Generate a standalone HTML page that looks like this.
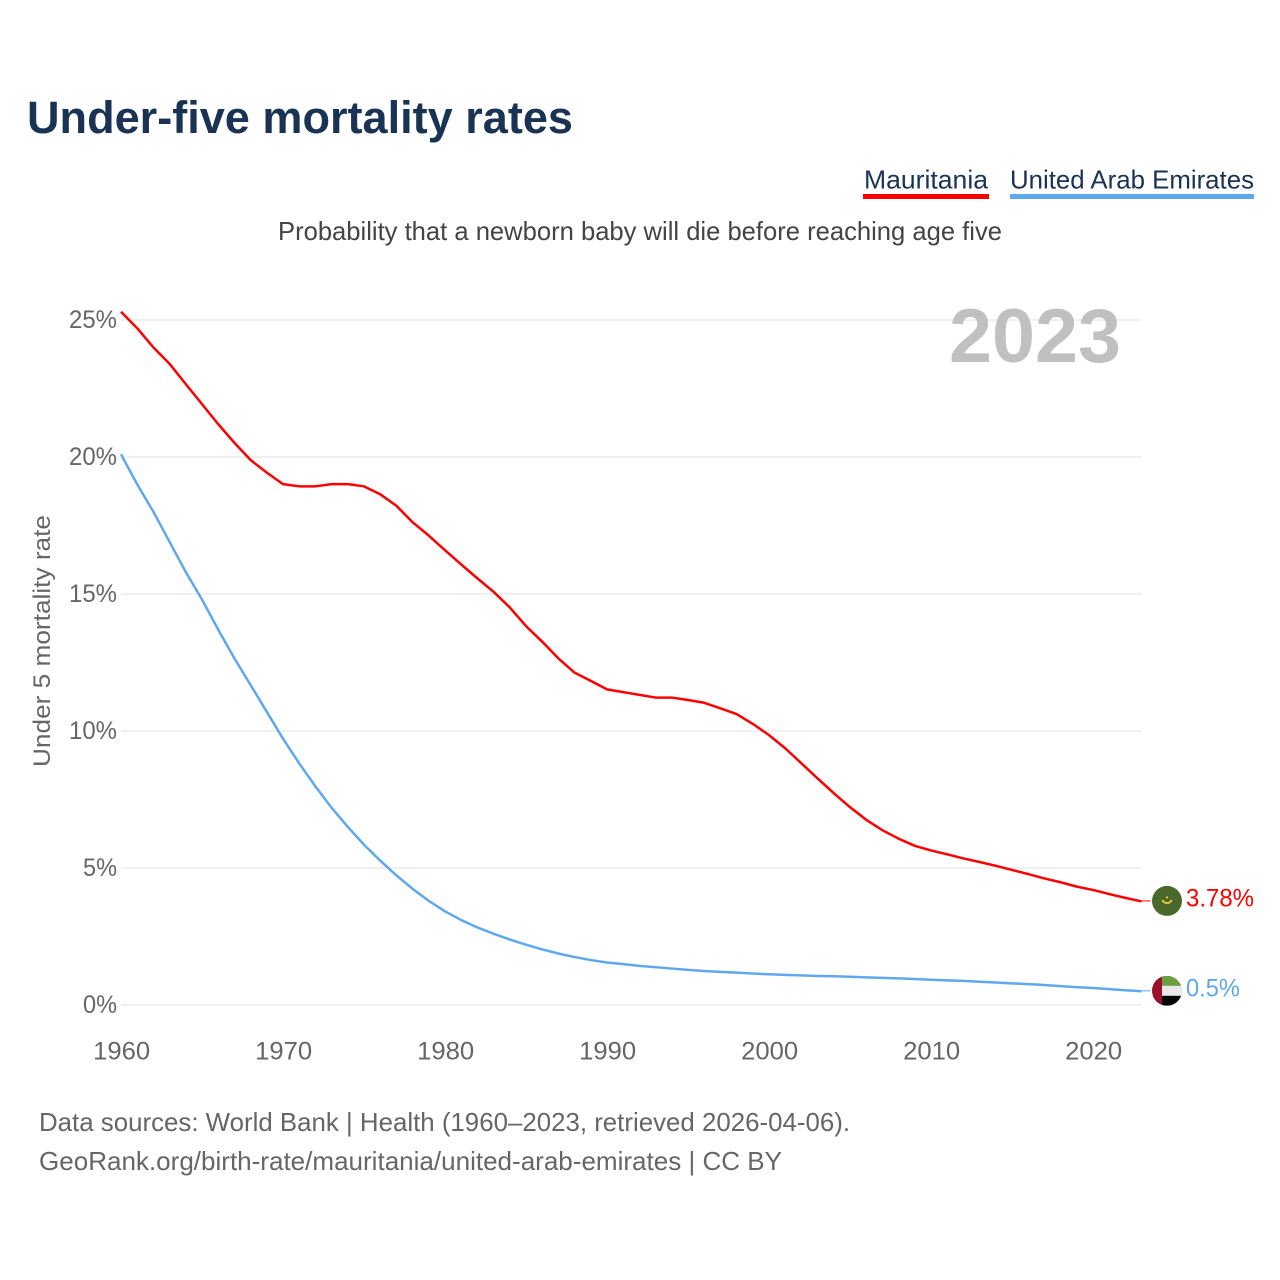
<!DOCTYPE html>
<html lang="en">
<head>
<meta charset="utf-8">
<title>Under-five mortality rates</title>
<style>
html,body{margin:0;padding:0;background:#fff;}
svg{display:block;font-family:"Liberation Sans",sans-serif;}
</style>
</head>
<body>
<svg id="chart" xmlns="http://www.w3.org/2000/svg" width="1280" height="1280" viewBox="0 0 1280 1280">
  <rect width="1280" height="1280" fill="#ffffff"/>
  <text x="27" y="133" font-size="45" font-weight="700" fill="#1a3355" textLength="546" lengthAdjust="spacingAndGlyphs">Under-five mortality rates</text>
  <g>
    <text x="864" y="188.5" font-size="26" fill="#1a3355" textLength="124" lengthAdjust="spacingAndGlyphs">Mauritania</text>
    <rect x="863" y="194" width="126" height="5" fill="#ff0000"/>
  </g>
  <g>
    <text x="1010" y="188.5" font-size="26" fill="#1a3355" textLength="244" lengthAdjust="spacingAndGlyphs">United Arab Emirates</text>
    <rect x="1010" y="194" width="244" height="5" fill="#5fa8ee"/>
  </g>
  <text x="278" y="240" font-size="26" fill="#444444" textLength="724" lengthAdjust="spacingAndGlyphs">Probability that a newborn baby will die before reaching age five</text>
  <text transform="translate(50,767) rotate(-90)" font-size="24" fill="#666666" textLength="252" lengthAdjust="spacingAndGlyphs">Under 5 mortality rate</text>
  <g id="grid"></g>
  <g id="yticks"></g>
  <g id="xticks"></g>
  <text x="949" y="362" font-size="76" font-weight="700" fill="#c0c0c0" textLength="172" lengthAdjust="spacingAndGlyphs">2023</text>
  <g id="series"></g>
  <defs>
    <clipPath id="clip-mr"><circle id="clip-mr-c" cx="1167" cy="901" r="15"/></clipPath>
    <clipPath id="clip-ae"><circle id="clip-ae-c" cx="1167" cy="991" r="15"/></clipPath>
  </defs>
  <g id="flag-mr">
    <g clip-path="url(#clip-mr)">
      <rect id="mr-bg" x="1152" y="886" width="30" height="30" fill="#4a682a"/>
    </g>
    <path id="mr-crescent" d="" fill="none" stroke="#e6c93a" stroke-width="2"/>
    <circle id="mr-star" cx="1167" cy="0" r="1.2" fill="#e6c93a"/>
  </g>
  <g id="flag-ae">
    <g clip-path="url(#clip-ae)">
      <rect id="ae-g" x="1152" y="976" width="30" height="10.5" fill="#6a9e3f"/>
      <rect id="ae-w" x="1152" y="986" width="30" height="10.5" fill="#e9e9e9"/>
      <rect id="ae-b" x="1152" y="996" width="30" height="10" fill="#050505"/>
      <rect id="ae-r" x="1152" y="976" width="10" height="30" fill="#9b0f2b"/>
    </g>
  </g>
  <text x="39" y="1131" font-size="26" fill="#666666" textLength="811" lengthAdjust="spacingAndGlyphs">Data sources: World Bank | Health (1960–2023, retrieved 2026-04-06).</text>
  <text x="39" y="1170" font-size="26" fill="#666666" textLength="743" lengthAdjust="spacingAndGlyphs">GeoRank.org/birth-rate/mauritania/united-arab-emirates | CC BY</text>
</svg>
<script>
var startYear = 1960;
var mauritania = [25.3,24.7,24.0,23.4,22.66,21.93,21.2,20.52,19.89,19.43,19.01,18.93,18.93,19.01,19.01,18.93,18.64,18.22,17.62,17.13,16.6,16.08,15.57,15.08,14.51,13.83,13.26,12.65,12.13,11.83,11.52,11.42,11.32,11.22,11.22,11.13,11.03,10.83,10.62,10.26,9.85,9.37,8.82,8.27,7.73,7.22,6.76,6.38,6.07,5.81,5.64,5.5,5.35,5.22,5.08,4.93,4.78,4.62,4.48,4.32,4.2,4.05,3.91,3.78];
var uae = [20.1,19.0,18.0,16.9,15.8,14.8,13.7,12.65,11.68,10.7,9.72,8.82,7.98,7.2,6.5,5.85,5.27,4.73,4.24,3.8,3.42,3.1,2.83,2.6,2.39,2.2,2.03,1.88,1.75,1.64,1.55,1.49,1.43,1.38,1.33,1.28,1.24,1.21,1.18,1.15,1.12,1.1,1.08,1.06,1.05,1.03,1.01,0.99,0.97,0.95,0.92,0.9,0.88,0.85,0.82,0.79,0.76,0.73,0.69,0.65,0.62,0.58,0.54,0.5];
var yTickValues = [0,5,10,15,20,25];
var yTickLabels = ["0%","5%","10%","15%","20%","25%"];
var xTickValues = [1960,1970,1980,1990,2000,2010,2020];
var xTickLabels = ["1960","1970","1980","1990","2000","2010","2020"];
var mauritaniaLabel = "3.78%";
var uaeLabel = "0.5%";

var NS = "http://www.w3.org/2000/svg";
function xScale(year){ return 121 + (year - 1960) * 16.2; }
function yScale(v){ return 1005 - v * 27.4; }
function make(tag, parent, attrs){
  var el = document.createElementNS(NS, tag);
  for (var k in attrs) el.setAttribute(k, attrs[k]);
  parent.appendChild(el);
  return el;
}
function pathFor(values){
  return values.map(function(v,i){
    return (i ? "L" : "M") + xScale(startYear + i).toFixed(2) + " " + yScale(v).toFixed(2);
  }).join(" ");
}

var grid = document.getElementById("grid");
var yticks = document.getElementById("yticks");
var xticks = document.getElementById("xticks");
var series = document.getElementById("series");

yTickValues.forEach(function(v,i){
  var line = make("line", grid, {x1:121, x2:1142, y1:yScale(v), y2:yScale(v), stroke:"#ececec", "stroke-width":1.5});
  
  
  var t = make("text", yticks, {x:117, y:yScale(v)+8, "font-size":25, fill:"#666666", "text-anchor":"end", textLength:(yTickLabels[i].length === 3 ? 48 : 34), lengthAdjust:"spacingAndGlyphs"});
  
  
  t.textContent = yTickLabels[i];
});

xTickValues.forEach(function(v,i){
  var t = make("text", xticks, {x:xScale(v)+0.7, y:1059.5, "font-size":25, fill:"#666666", "text-anchor":"middle", textLength:57, lengthAdjust:"spacingAndGlyphs"});
  
  
  t.textContent = xTickLabels[i];
});

var lineMr = make("path", series, {d:pathFor(mauritania), fill:"none", stroke:"#ff0000", "stroke-width":2.5, "stroke-linejoin":"round"});


var lineAe = make("path", series, {d:pathFor(uae), fill:"none", stroke:"#5fa8ee", "stroke-width":2.5, "stroke-linejoin":"round"});



var lastYear = startYear + mauritania.length - 1;
var endX = xScale(lastYear);
var yMr = yScale(mauritania[mauritania.length-1]) - 0.5;
var yAe = yScale(uae[uae.length-1]) - 0.5;

var connMr = make("line", series, {x1:endX, x2:endX+9, y1:yMr, y2:yMr, stroke:"#ff0000", "stroke-width":1});


var connAe = make("line", series, {x1:endX, x2:endX+9, y1:yAe, y2:yAe, stroke:"#5fa8ee", "stroke-width":1});



var endMr = make("text", series, {x:1186, y:yMr+5.5, "font-size":25, fill:"#ff0000", textLength:68, lengthAdjust:"spacingAndGlyphs"});


endMr.textContent = mauritaniaLabel;
var endAe = make("text", series, {x:1186, y:yAe+5.5, "font-size":25, fill:"#5fa8ee", textLength:54, lengthAdjust:"spacingAndGlyphs"});


endAe.textContent = uaeLabel;

/* flags follow the last value of each series */
document.getElementById("clip-mr-c").setAttribute("cy", yMr);
document.getElementById("mr-bg").setAttribute("y", yMr-15);
document.getElementById("mr-crescent").setAttribute("d", "M1162.5 " + (yMr-1) + " A4.8 4.8 0 0 0 1171.5 " + (yMr-1));
document.getElementById("mr-star").setAttribute("cy", yMr-3.5);
document.getElementById("clip-ae-c").setAttribute("cy", yAe);
document.getElementById("ae-g").setAttribute("y", yAe-15);
document.getElementById("ae-w").setAttribute("y", yAe-5);
document.getElementById("ae-b").setAttribute("y", yAe+5);
document.getElementById("ae-r").setAttribute("y", yAe-15);
</script>
</body>
</html>
